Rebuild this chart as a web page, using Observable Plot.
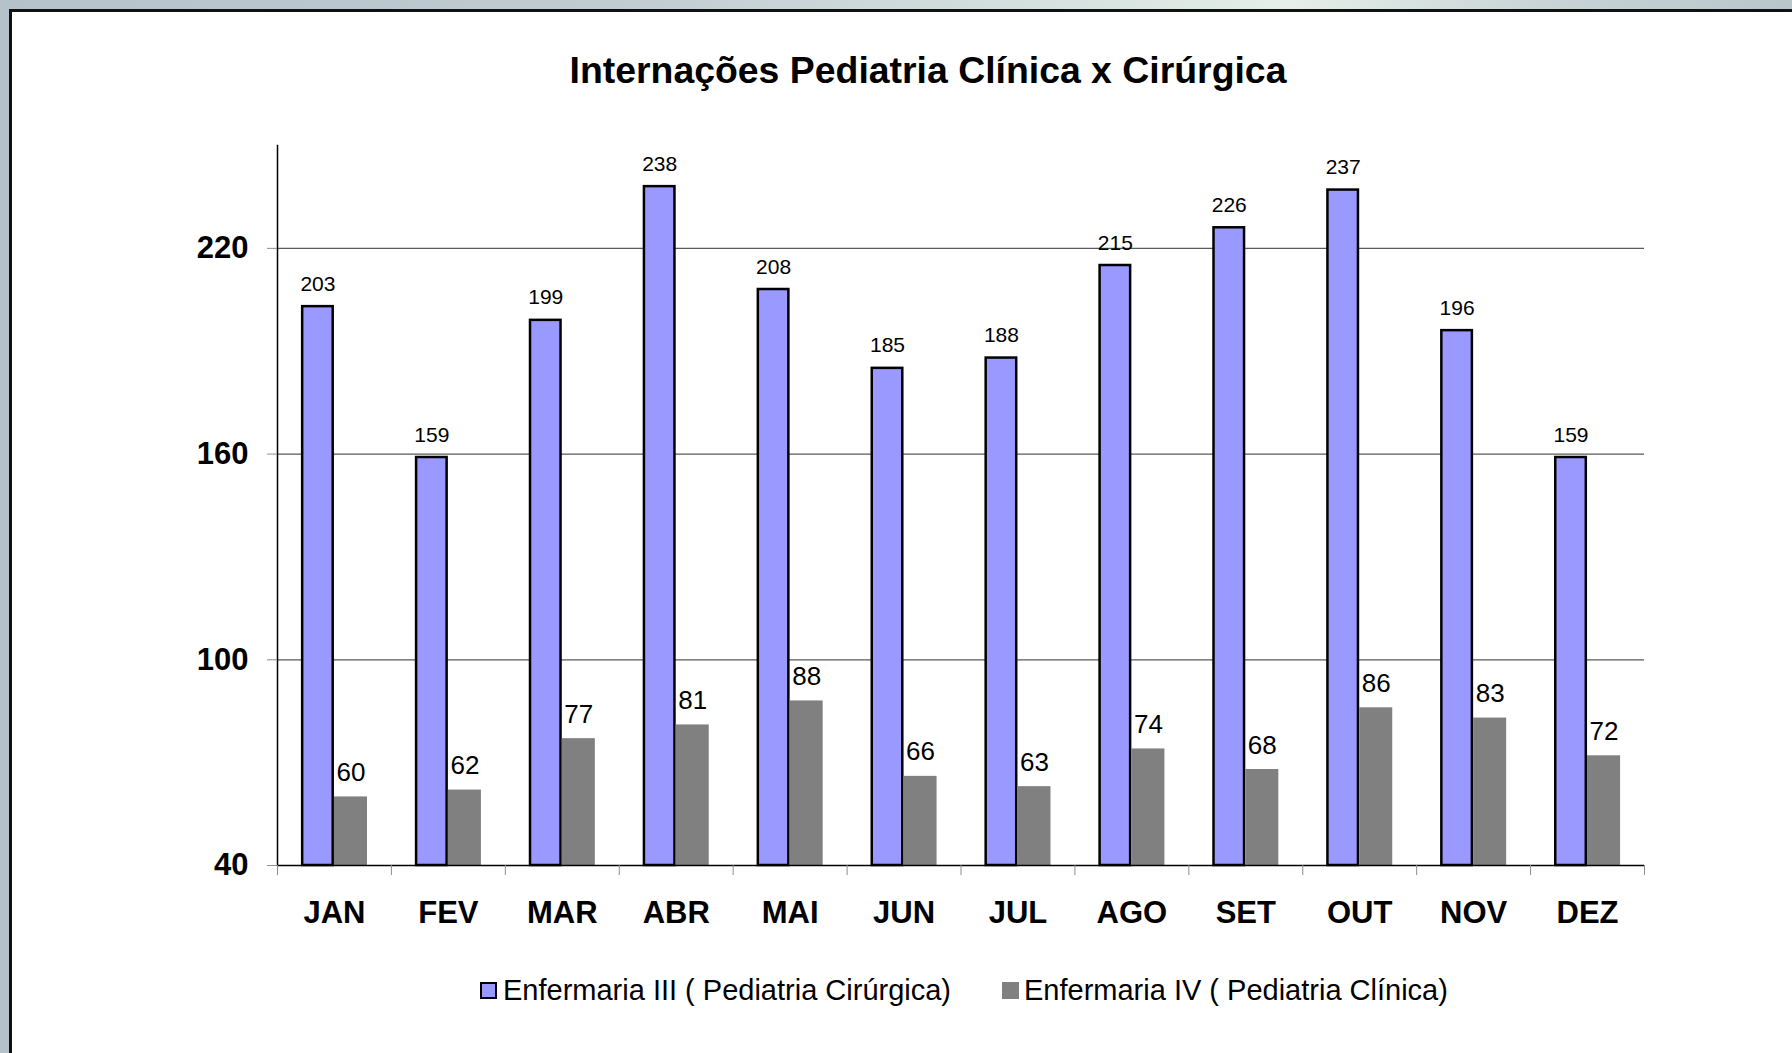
<!DOCTYPE html>
<html>
<head>
<meta charset="utf-8">
<script src="https://cdn.jsdelivr.net/npm/d3@7"></script>
<script src="https://cdn.jsdelivr.net/npm/@observablehq/plot@0.6"></script>
<style>
  html, body { margin: 0; padding: 0; width: 1792px; height: 1053px; overflow: hidden; }
  body {
    position: relative;
    font-family: "Liberation Sans", Arial, Helvetica, sans-serif;
    background: linear-gradient(90deg, #b6c2ca 0%, #c0ccd2 35%, #d9e5e1 62%, #e6efe9 72%, #c8d4d6 86%, #b8c7cc 100%);
  }
  #frame { position: absolute; left: 9px; top: 9px; width: 1800px; height: 1060px; background: #fff;
           border-left: 3px solid #111; border-top: 3px solid #111; }
  #title { position: absolute; left: 428px; width: 1000px; top: 51px; text-align: center;
           font-weight: bold; font-size: 37.4px; line-height: 38px; color: #000; white-space: nowrap; }
  #chart { position: absolute; left: 0; top: 100px; }
  .sw { position: absolute; top: 982px; width: 17px; height: 17px; box-sizing: border-box; }
  .lt { position: absolute; top: 976px; font-size: 29px; line-height: 29px; color: #000; white-space: nowrap; }
</style>
</head>
<body>
<div id="frame"></div>
<div id="title"></div>
<div id="chart"></div>
<div id="legend"></div>
<script>
const titleText = "Internações Pediatria Clínica x Cirúrgica";
const months = ["JAN","FEV","MAR","ABR","MAI","JUN","JUL","AGO","SET","OUT","NOV","DEZ"];
const cirurgica = [203,159,199,238,208,185,188,215,226,237,196,159];
const clinica = [60,62,77,81,88,66,63,74,68,86,83,72];
const yTicks = [40,100,160,220];
const gridTicks = [100,160,220];
const seriesNames = ["Enfermaria III ( Pediatria Cirúrgica)", "Enfermaria IV ( Pediatria Clínica)"];
const seriesColors = ["#9999ff", "#808080"];

document.getElementById("title").textContent = titleText;

const W = 1792, H = 850, ML = 277, MR = 148, MT = 45, MB = 85;
const step = (W - ML - MR) / months.length;
const groupPad = step * 0.21;
const barW = step * 0.29;
const sw = 2.5;

const data = months.map((m, i) => ({month: m, cir: cirurgica[i], cli: clinica[i]}));

const tickColor = "#8c8c8c";
const plot = Plot.plot({
  width: W, height: H,
  marginLeft: ML, marginRight: MR, marginTop: MT, marginBottom: MB,
  style: {background: "transparent", fontFamily: "Liberation Sans, Arial, sans-serif", overflow: "visible", color: "#000"},
  x: {domain: months, padding: 0, round: false, label: null},
  y: {domain: [40, 250], label: null},
  marks: [
    Plot.gridY({ticks: gridTicks, stroke: "#5a5a5a", strokeOpacity: 1, strokeWidth: 1.3}),
    Plot.barY(data, {x: "month", y1: 40, y2: "cir", fill: seriesColors[0], stroke: "#000", strokeWidth: sw,
      insetLeft: groupPad + sw / 2, insetRight: step - groupPad - barW + sw / 2}),
    Plot.barY(data, {x: "month", y1: 40, y2: "cli", fill: seriesColors[1],
      insetLeft: groupPad + barW, insetRight: groupPad}),
    Plot.ruleY([40], {stroke: "#000", strokeWidth: 1.5}),
    Plot.frame({anchor: "left", stroke: "#000", strokeWidth: 1.5}),
    Plot.axisY({ticks: yTicks, tickSize: 10, tickFormat: () => "", stroke: tickColor, label: null}),
    Plot.axisY({ticks: yTicks, tickSize: 0, tickPadding: 29, fontSize: 31, fontWeight: "bold", fill: "#000", label: null}),
    Plot.axisX({tickSize: 10, tickFormat: () => "", dx: -step / 2, stroke: tickColor, label: null}),
    Plot.axisX({ticks: [months[months.length - 1]], tickSize: 10, tickFormat: () => "", dx: step / 2, stroke: tickColor, label: null}),
    Plot.axisX({tickSize: 0, tickPadding: 35, fontSize: 31, fontWeight: "bold", fill: "#000", label: null}),
    Plot.text(data, {x: "month", y: "cir", text: d => String(d.cir), dx: groupPad + barW / 2 - step / 2, dy: -16,
      lineAnchor: "bottom", fontSize: 21, fill: "#000"}),
    Plot.text(data, {x: "month", y: "cli", text: d => String(d.cli), dx: groupPad + barW * 1.5 - step / 2, dy: -16,
      lineAnchor: "bottom", fontSize: 26, fill: "#000"})
  ]
});
document.getElementById("chart").appendChild(plot);

const legend = document.getElementById("legend");
const legendPos = [{sw: 480, tx: 503, border: true}, {sw: 1002, tx: 1024, border: false}];
seriesNames.forEach((name, i) => {
  const s = document.createElement("div");
  s.className = "sw";
  s.style.left = legendPos[i].sw + "px";
  s.style.background = seriesColors[i];
  if (legendPos[i].border) s.style.border = "2.5px solid #000";
  legend.appendChild(s);
  const t = document.createElement("div");
  t.className = "lt";
  t.style.left = legendPos[i].tx + "px";
  t.textContent = name;
  legend.appendChild(t);
});
</script>
</body>
</html>
